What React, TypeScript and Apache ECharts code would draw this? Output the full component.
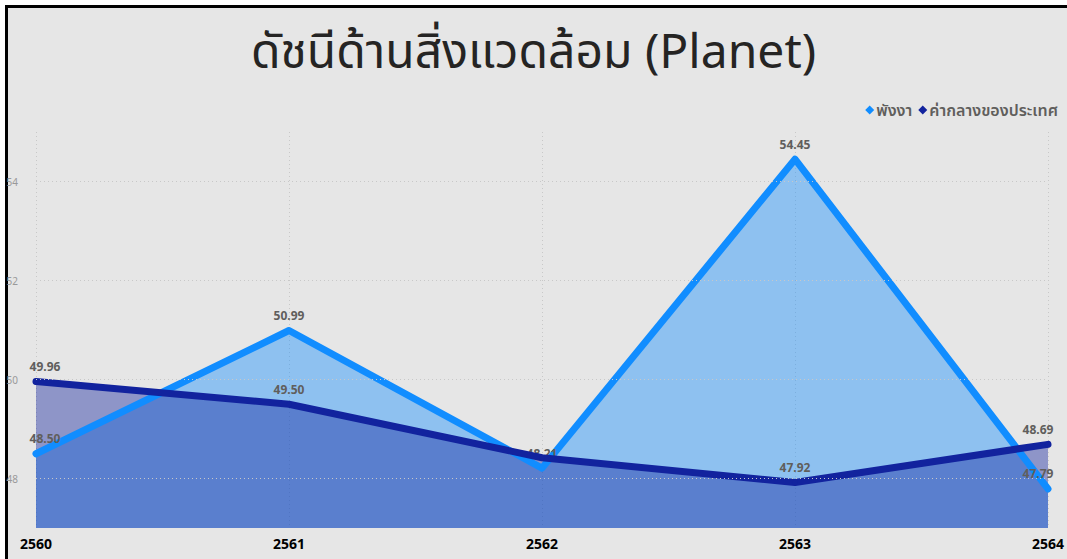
import React, { useEffect, useRef } from "react";
import * as echarts from "echarts";

const categories = ["2560", "2561", "2562", "2563", "2564"];
const phangNga = [48.5, 50.99, 48.21, 54.45, 47.79];
const national = [49.96, 49.5, 48.42, 47.92, 48.69];
const hiddenNationalLabels = [false, false, true, false, false];
const gridValues = [48, 50, 52, 54];
const seriesNames = ["พังงา", "ค่ากลางของประเทศ"];
const colors = ["#118DFF", "#12239E"];

const FONT = "'Noto Sans', 'Noto Sans Thai', 'DejaVu Sans', sans-serif";

function labelOffset(i: number, n: number): [number, number] {
  if (i === 0) return [9, 0];
  if (i === n - 1) return [-10, 0];
  return [0, 0];
}

export default function App() {
  const ref = useRef<HTMLDivElement>(null);
  useEffect(() => {
    document.body.style.margin = "0";
    if (!ref.current) return;
    const chart = echarts.init(ref.current, undefined, { renderer: "svg" });
    const labelStyle = {
      show: true,
      position: "top" as const,
      distance: 6,
      color: "#605e5c",
      fontSize: 12,
      fontWeight: "bold" as const,
      fontFamily: FONT,
      formatter: (p: any) => Number(p.value).toFixed(2),
    };
    const mkData = (vals: number[], hidden?: boolean[]) =>
      vals.map((v, i) => ({
        value: v,
        label: {
          offset: labelOffset(i, vals.length),
          show: hidden ? !hidden[i] : true,
        },
      }));
    const areaSeries = (vals: number[], idx: number) => ({
      name: "_area" + idx,
      type: "line",
      data: vals,
      symbol: "none",
      silent: true,
      lineStyle: { width: 0, opacity: 0 },
      areaStyle: { color: colors[idx], opacity: 0.41, origin: "start" },
      z: 1,
    });
    const lineSeries = (vals: number[], idx: number, hidden?: boolean[]) => ({
      name: seriesNames[idx],
      type: "line",
      data: mkData(vals, hidden),
      symbol: "circle",
      symbolSize: 6,
      showSymbol: true,
      lineStyle: { color: colors[idx], width: 7, cap: "round", join: "round" },
      itemStyle: { color: colors[idx] },
      label: labelStyle,
      z: 3 + idx,
    });
    chart.setOption({
      animation: false,
      backgroundColor: "#ffffff",
      graphic: [
        {
          type: "rect",
          z: -10,
          silent: true,
          shape: { x: 6.5, y: 6.5, width: 1100, height: 600 },
          style: { fill: "#e6e6e6", stroke: "#000000", lineWidth: 3 },
        },
      ],
      title: {
        text: "ดัชนีด้านสิ่งแวดล้อม (Planet)",
        left: "center",
        top: 20,
        textStyle: {
          fontSize: 48,
          fontWeight: "normal",
          color: "#252423",
          fontFamily: FONT,
        },
      },
      legend: {
        data: seriesNames,
        right: 4,
        top: 97,
        icon: "diamond",
        itemWidth: 9,
        itemHeight: 9,
        itemGap: 6,
        textStyle: {
          fontSize: 16,
          color: "#605e5c",
          fontWeight: 600,
          fontFamily: FONT,
          padding: [0, 0, 0, -3],
        },
      },
      grid: { left: 36, right: 16, top: 132, bottom: 31, containLabel: false },
      xAxis: {
        type: "category",
        data: categories,
        boundaryGap: false,
        axisLine: { show: false },
        axisTick: { show: false },
        axisLabel: {
          color: "#000000",
          fontSize: 14,
          fontWeight: "bold",
          fontFamily: FONT,
          margin: 8,
        },
        splitLine: {
          show: true,
          lineStyle: { color: "#c8c8c8", type: [1, 3], width: 1 },
        },
      },
      yAxis: {
        type: "value",
        min: 47,
        max: 55,
        interval: 1,
        axisLine: { show: false },
        axisTick: { show: false },
        axisLabel: {
          color: "#999999",
          fontSize: 10,
          fontFamily: FONT,
          margin: 18,
          formatter: (v: number) => (gridValues.includes(v) ? String(v) : ""),
        },
        splitLine: { show: false },
      },
      series: [
        {
          ...areaSeries(phangNga, 0),
          markLine: {
            silent: true,
            symbol: "none",
            label: { show: false },
            lineStyle: { color: "#c8c8c8", type: [1, 3], width: 1 },
            data: gridValues.map((v) => ({ yAxis: v })),
          },
        },
        areaSeries(national, 1),
        lineSeries(phangNga, 0),
        lineSeries(national, 1, hiddenNationalLabels),
      ],
    });
    return () => chart.dispose();
  }, []);
  return <div ref={ref} style={{ width: 1067, height: 559 }} />;
}
